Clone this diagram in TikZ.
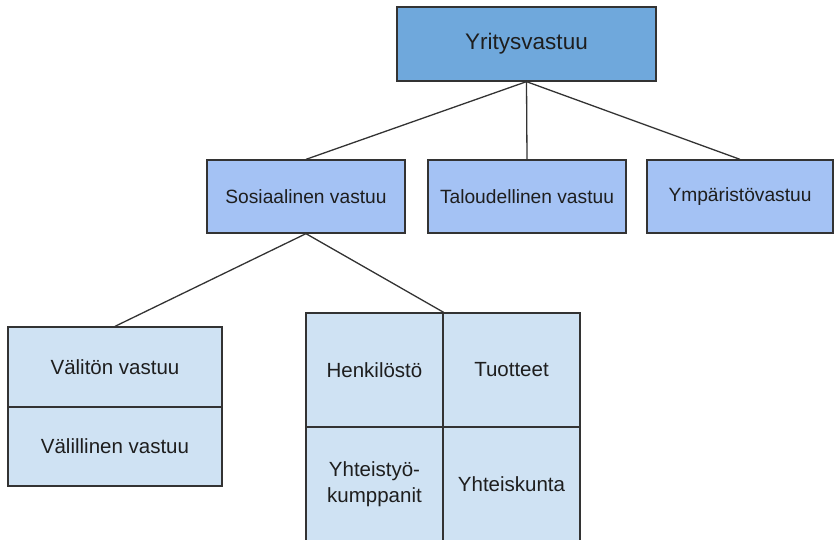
\documentclass[tikz,border=0pt]{standalone}
\usepackage{fontspec}
\setmainfont{Liberation Sans}
\definecolor{topfill}{HTML}{6FA8DC}
\definecolor{midfill}{HTML}{A4C2F4}
\definecolor{lowfill}{HTML}{CFE2F3}
\definecolor{edge}{HTML}{333333}
\definecolor{ink}{HTML}{1E1E1E}
\begin{document}
\begin{tikzpicture}[x=1pt,y=-1pt,
  box/.style={draw=edge,line width=1.3pt,rectangle,inner sep=0pt,text=ink,align=center},
  topbox/.style={box,fill=topfill,minimum width=259pt,minimum height=74pt,font=\fontsize{22.5}{27}\selectfont},
  midbox/.style={box,fill=midfill,minimum width=198pt,minimum height=73pt,font=\fontsize{19.2}{23}\selectfont},
  lowbox/.style={box,fill=lowfill,font=\fontsize{20.5}{26}\selectfont},
  link/.style={draw=edge,line width=1.3pt}]
\useasboundingbox (0,0) rectangle (835,540);
\clip (0,0) rectangle (835,540);
\node[topbox] (top) at (526.5,44) {Yritysvastuu};
\node[midbox] (sos) at (306,196.5) {Sosiaalinen vastuu};
\node[midbox] (tal) at (527,196.5) {Taloudellinen vastuu};
\node[midbox,minimum width=186pt] (ymp) at (740,196.5) {Ympäristövastuu};
\node[lowbox,minimum width=214pt,minimum height=80pt] (valiton) at (115,367) {Välitön vastuu};
\node[lowbox,minimum width=214pt,minimum height=79pt] (valillinen) at (115,446.5) {Välillinen vastuu};
\node[lowbox,minimum width=137pt,minimum height=114pt] (henk) at (374.5,370) {Henkilöstö};
\node[lowbox,minimum width=137pt,minimum height=114pt] (tuot) at (511.5,370) {Tuotteet};
\node[lowbox,minimum width=137pt,minimum height=114pt] (yhtk) at (374.5,484) {Yhteistyö-\\kumppanit};
\node[lowbox,minimum width=137pt,minimum height=114pt] (yhts) at (511.5,484) {Yhteiskunta};
\draw[link] (top.south) -- (sos.north);
\draw[link] (top.south) -- (tal.north);
\draw[link] (top.south) -- (ymp.north);
\draw[link] (sos.south) -- (valiton.north);
\draw[link] (sos.south) -- (henk.north east);
\end{tikzpicture}
\end{document}
